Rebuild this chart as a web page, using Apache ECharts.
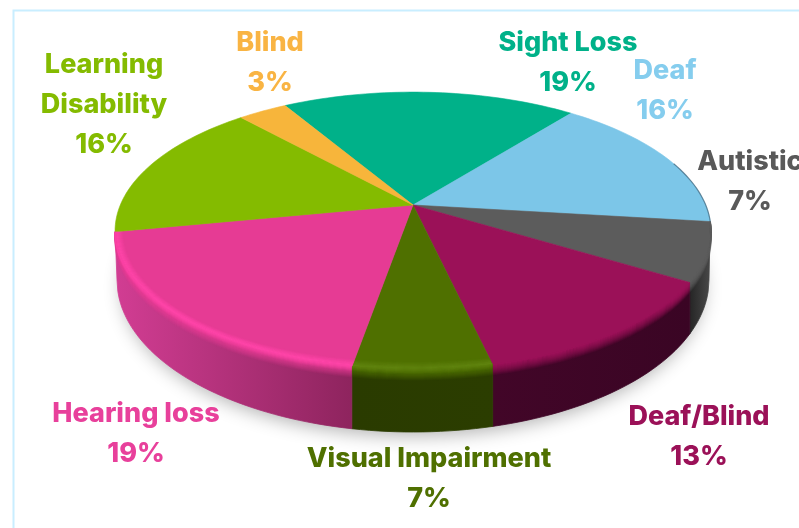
<!DOCTYPE html>
<html><head><meta charset="utf-8">
<style>html,body{margin:0;padding:0;background:#fff;overflow:hidden}#c{width:799px;height:528px}</style>
<script src="https://cdn.jsdelivr.net/npm/echarts@6/dist/echarts.min.js"></script>
</head><body><div id="c"></div>
<script>
const categories = ['Sight Loss','Deaf','Autistic','Deaf/Blind','Visual Impairment','Hearing loss','Learning Disability','Blind'];
// Slice sizes.
const values = [19.1,16.3,6.8,12.7,6.3,19.2,16.4,3.2];
// Percentages as printed on the picture.
const percentLabels = ['19%','16%','7%','13%','7%','19%','16%','3%'];

// Presentation tables, kept apart from the data
const faceColors = ['#00B189','#7CC6E8','#5C5C5C','#9B1158','#4F7000','#E63B94','#84BB00','#F7B53B'];
const labelColors = ['#00B189','#85CDEE','#595959','#9B1158','#4F7000','#E8409B','#84BB00','#F9B443'];
const sideColors = {
  2:['#4a4a4a','#252525'], 3:['#3A0524','#420628'], 4:['#2B3D00','#2A3B00'], 5:['#8E245E','#D23D93']
};
const highlightColors = {4:['#6A8F18',0.55],5:['#FF45A9',0.95]};
const labelAnchors = {
  0:[568,43],1:[665,71],2:[750,162],3:[699,417],4:[429,459],5:[136,414],6:[104,65],7:[270,43]
};
const labelLineText = {6:['Learning','Disability']};

// Perspective model of the disc
const GEO = {apexX:413, apexY:205, a:292.7, b:134, k:-0.187, start:239.5, midY:231, lowCy:280, lowRx:296, lowRy:152};
function topPt(deg){
  const t = deg*Math.PI/180, u=Math.cos(t), v=Math.sin(t), d=1+GEO.k*v;
  return [GEO.apexX+GEO.a*u/d, GEO.apexY+GEO.b*v/d];
}
function lowPt(p){
  const x = Math.max(GEO.apexX-GEO.lowRx, Math.min(GEO.apexX+GEO.lowRx, p[0]));
  const r = (x-GEO.apexX)/GEO.lowRx;
  return [x, GEO.lowCy+GEO.lowRy*Math.sqrt(Math.max(0,1-r*r))];
}
const total = values.reduce((s,v)=>s+v,0);
const SP = (function(){let a=GEO.start; return values.map(v=>{const s=a; a+=v/total*360; return [s,a];});})();
function arc(s,e){const pts=[];const n=Math.max(4,Math.ceil(Math.abs(e-s)/1.5));for(let i=0;i<=n;i++)pts.push(topPt(s+(e-s)*i/n));return pts;}
function front(s,e){
  const lo=6.5, hi=169.2;
  let a=s%360, b=a+(e-s);
  if(a>300){a-=360;b-=360;}
  a=Math.max(a,lo); b=Math.min(b,hi);
  return b-a>1?[a,b]:null;
}
// d<0: moved in toward the disc centre; d>0: moved down over the side wall
function offset(p,d){
  if(d>0) return [p[0],p[1]+d];
  const dx=p[0]-GEO.apexX, dy=p[1]-GEO.midY, L=Math.hypot(dx,dy)||1;
  return [p[0]+dx/L*d, p[1]+dy/L*d];
}
function hexA(h,a){const n=parseInt(h.slice(1),16);return 'rgba('+(n>>16)+','+((n>>8)&255)+','+(n&255)+','+a+')';}

const shadow = {type:'custom', coordinateSystem:'none', silent:true, z:1, data:[0],
  renderItem(){
    return {type:'ellipse', shape:{cx:GEO.apexX, cy:GEO.lowCy+3, rx:GEO.lowRx-5, ry:GEO.lowRy-3},
      style:{fill:'#c8c8c8', shadowBlur:18, shadowColor:'rgba(0,0,0,0.30)', shadowOffsetY:4}};
  }};
const sides = {type:'custom', coordinateSystem:'none', silent:true, z:2, data:values.map((v,i)=>i),
  renderItem(p,api){
    const i=api.value(0), f=front(SP[i][0],SP[i][1]);
    if(!f) return;
    const top=arc(f[0],f[1]), low=top.map(lowPt).reverse();
    const sc=sideColors[i]||['#444','#444'];
    const grad=new echarts.graphic.LinearGradient(0,0,1,0,[{offset:0,color:sc[1]},{offset:1,color:sc[0]}]);
    return {type:'polygon',shape:{points:top.concat(low)},style:{fill:grad,stroke:grad,lineWidth:0.8}};
  }};
const faces = {type:'custom', coordinateSystem:'none', silent:true, z:3, data:values.map((v,i)=>i),
  renderItem(p,api){
    const i=api.value(0);
    return {type:'polygon',shape:{points:[[GEO.apexX,GEO.apexY]].concat(arc(SP[i][0],SP[i][1]))},
      style:{fill:faceColors[i],stroke:faceColors[i],lineWidth:0.6}};
  }};
const bevels = {type:'custom', coordinateSystem:'none', silent:true, z:4, data:values.map((v,i)=>i),
  renderItem(p,api){
    const i=api.value(0), f=front(SP[i][0],SP[i][1]);
    if(!f) return;
    const rim=arc(f[0],f[1]), kids=[];
    for(let d=0;d<=10;d++){
      kids.push({type:'polyline',shape:{points:rim.map(q=>offset(q,d))},
        style:{fill:null,stroke:hexA(faceColors[i],(1-d/11).toFixed(2)),lineWidth:1.4}});
    }
    const h=highlightColors[i];
    if(h){
      for(let d=-8;d<=4;d++){
        const al=h[1]*Math.max(0,1-Math.abs(d+2)/6.5);
        kids.push({type:'polyline',shape:{points:rim.map(q=>offset(q,d))},
          style:{fill:null,stroke:hexA(h[0],al.toFixed(2)),lineWidth:1.2}});
      }
    }
    return {type:'group',children:kids};
  }};
const edge = {type:'custom', coordinateSystem:'none', silent:true, z:4, data:[1],
  renderItem(p,api){
    const i=api.value(0);
    return {type:'polyline',shape:{points:arc(SP[i][1]-26,SP[i][1])},
      style:{fill:null,stroke:'rgba(40,70,90,0.55)',lineWidth:1.2}};
  }};
const labels = {type:'custom', coordinateSystem:'none', silent:true, z:5, data:values.map((v,i)=>i),
  renderItem(p,api){
    const i=api.value(0), lines=(labelLineText[i]||[categories[i]]).concat([percentLabels[i]]);
    const A=labelAnchors[i];
    return {type:'group',children:lines.map((t,j)=>({type:'text',
      style:{text:t,x:A[0],y:A[1]+j*40,align:'center',verticalAlign:'middle',
        fill:labelColors[i],font:'800 27px Inter, "Noto Sans", sans-serif'}}))};
  }};

const chart = echarts.init(document.getElementById('c'),null,{renderer:'canvas'});
chart.setOption({animation:false,backgroundColor:'#fff',
  graphic:[{type:'rect',z:0,shape:{x:13.5,y:10.5,width:900,height:800},style:{fill:'#fff',stroke:'#C9EEFF',lineWidth:2}}],
  series:[shadow,sides,faces,bevels,edge,labels]});
</script></body></html>
